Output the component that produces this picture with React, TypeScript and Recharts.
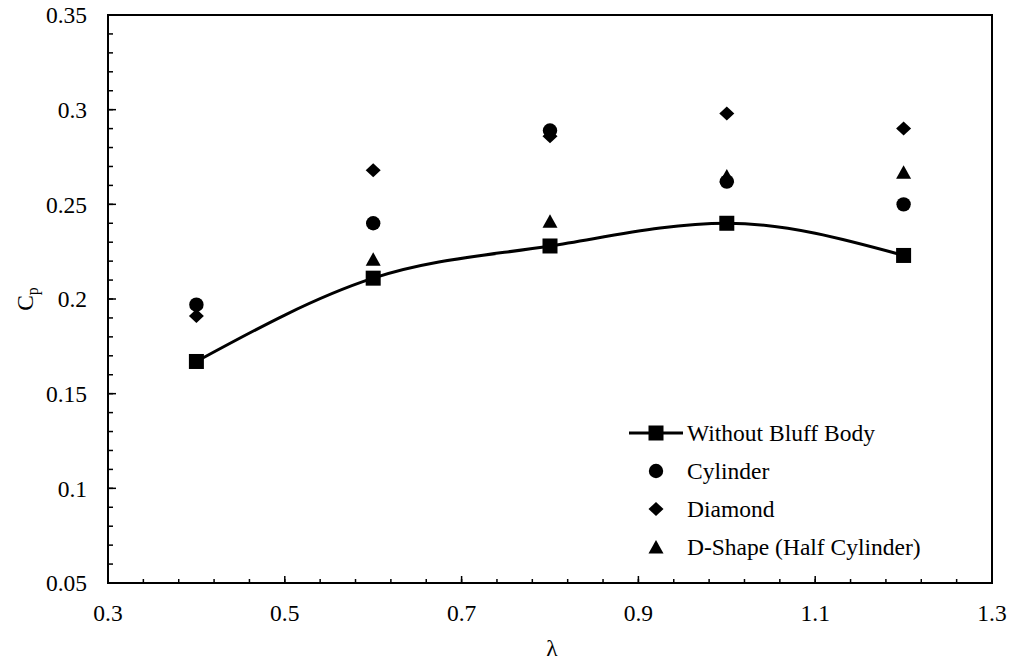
import * as React from "react"
import { LineChart, Line, XAxis, YAxis, Legend, ReferenceArea } from "recharts"

// tip speed ratio and power coefficient for each bluff body
const lambdaValues = [0.4, 0.6, 0.8, 1.0, 1.2]
const withoutBluffBody = [0.167, 0.211, 0.228, 0.24, 0.223]
const cylinder = [0.197, 0.24, 0.289, 0.262, 0.25]
const diamond = [0.191, 0.268, 0.286, 0.298, 0.29]
const dShape = [null, 0.221, 0.241, 0.265, 0.267]

const xTicks = [0.3, 0.5, 0.7, 0.9, 1.1, 1.3]
const xMinorTicks = [
  0.3, 0.34, 0.38, 0.42, 0.46, 0.5, 0.54, 0.58, 0.62, 0.66, 0.7, 0.74, 0.78,
  0.82, 0.86, 0.9, 0.94, 0.98, 1.02, 1.06, 1.1, 1.14, 1.18, 1.22, 1.26, 1.3,
]
const yTicks = [0.05, 0.1, 0.15, 0.2, 0.25, 0.3, 0.35]
const yMinorTicks = [
  0.05, 0.06, 0.07, 0.08, 0.09, 0.1, 0.11, 0.12, 0.13, 0.14, 0.15, 0.16, 0.17,
  0.18, 0.19, 0.2, 0.21, 0.22, 0.23, 0.24, 0.25, 0.26, 0.27, 0.28, 0.29, 0.3,
  0.31, 0.32, 0.33, 0.34, 0.35,
]

const data = lambdaValues.map((l, i) => ({
  lambda: l,
  without: withoutBluffBody[i],
  cylinder: cylinder[i],
  diamond: diamond[i],
  dShape: dShape[i],
}))

const FONT = '"Liberation Serif", "Times New Roman", serif'
const FS = 23.5

type Kind = "square" | "circle" | "diamond" | "triangle"

const marker = (kind: Kind, cx: number, cy: number, key?: any) => {
  if (kind === "square")
    return <rect key={key} x={cx - 7.5} y={cy - 7.5} width={15} height={15} fill="#000" />
  if (kind === "circle") return <circle key={key} cx={cx} cy={cy} r={7.2} fill="#000" />
  if (kind === "diamond")
    return (
      <polygon
        key={key}
        points={`${cx},${cy - 7} ${cx + 7.5},${cy} ${cx},${cy + 7} ${cx - 7.5},${cy}`}
        fill="#000"
      />
    )
  return (
    <polygon
      key={key}
      points={`${cx},${cy - 7} ${cx + 7.5},${cy + 6.5} ${cx - 7.5},${cy + 6.5}`}
      fill="#000"
    />
  )
}

const dotOf = (kind: Kind) => (props: any) => {
  const { cx, cy, key, value } = props
  if (value == null || cy == null || isNaN(cy)) return <g key={key} />
  return marker(kind, cx, cy, key)
}

const legendItems: { name: string; kind: Kind; line: boolean }[] = [
  { name: "Without Bluff Body", kind: "square", line: true },
  { name: "Cylinder", kind: "circle", line: false },
  { name: "Diamond", kind: "diamond", line: false },
  { name: "D-Shape (Half Cylinder)", kind: "triangle", line: false },
]

const LegendBox = () => (
  <div style={{ fontFamily: FONT, fontSize: FS, color: "#000" }}>
    {legendItems.map((it) => (
      <div key={it.name} style={{ display: "flex", alignItems: "center", height: 38 }}>
        <svg width={54} height={38} style={{ marginRight: 4 }}>
          {it.line && <line x1={0} x2={54} y1={19} y2={19} stroke="#000" strokeWidth={3} />}
          {marker(it.kind, 27, 19)}
        </svg>
        <span style={{ whiteSpace: "nowrap" }}>{it.name}</span>
      </div>
    ))}
  </div>
)

const noLabel = () => <g />
const tickStyle = { fontFamily: FONT, fontSize: FS, fill: "#000" }
const tickLn = { stroke: "#000", strokeWidth: 1.5 }

export default function App() {
  return (
    <div style={{ width: 1019, height: 662, background: "#fff" }}>
      <style>{`body{margin:0}`}</style>
      <LineChart
        width={1019}
        height={662}
        data={data}
        margin={{ top: 15, right: 27, bottom: 18, left: 27 }}
      >
        {/* minor ticks + axis lines; id 0 sits right on the plot edge */}
        <XAxis
          xAxisId={0}
          type="number"
          dataKey="lambda"
          domain={[0.3, 1.3]}
          allowDataOverflow
          ticks={xMinorTicks}
          interval={0}
          height={1}
          axisLine={{ stroke: "#000", strokeWidth: 2 }}
          tick={noLabel}
          tickSize={-4}
          tickLine={tickLn}
        />
        <YAxis
          yAxisId={0}
          type="number"
          domain={[0.05, 0.35]}
          allowDataOverflow
          ticks={yMinorTicks}
          interval={0}
          width={1}
          axisLine={{ stroke: "#000", strokeWidth: 2 }}
          tick={noLabel}
          tickSize={-5}
          tickLine={tickLn}
        />
        {/* major ticks and labels */}
        <XAxis
          xAxisId="major"
          type="number"
          dataKey="lambda"
          domain={[0.3, 1.3]}
          allowDataOverflow
          ticks={xTicks}
          interval={0}
          height={60}
          tickFormatter={(v: number) => String(v)}
          tick={tickStyle}
          tickSize={-8}
          tickMargin={28}
          axisLine={false}
          tickLine={tickLn}
          label={{
            content: ({ viewBox }: any) => (
              <text
                x={viewBox.x + viewBox.width / 2 + 2}
                y={viewBox.y + 72}
                textAnchor="middle"
                fontFamily={FONT}
                fontSize={FS}
                fill="#000"
              >
                λ
              </text>
            ),
          }}
        />
        <YAxis
          yAxisId="major"
          type="number"
          domain={[0.05, 0.35]}
          allowDataOverflow
          ticks={yTicks}
          interval={0}
          width={80}
          tickFormatter={(v: number) => String(v)}
          tick={tickStyle}
          tickSize={-9}
          tickMargin={29}
          axisLine={false}
          tickLine={tickLn}
          label={{
            content: ({ viewBox }: any) => {
              const x = viewBox.x + 6
              const y = viewBox.y + viewBox.height / 2
              return (
                <text
                  x={x}
                  y={y}
                  transform={`rotate(-90, ${x}, ${y})`}
                  textAnchor="middle"
                  fontFamily={FONT}
                  fontSize={FS}
                  fill="#000"
                >
                  C
                  <tspan dy={5} fontSize={16}>
                    p
                  </tspan>
                </text>
              )
            },
          }}
        />
        {/* plot frame */}
        <ReferenceArea
          x1={0.3}
          x2={1.3}
          y1={0.05}
          y2={0.35}
          fill="none"
          stroke="#000"
          strokeWidth={2}
          ifOverflow="visible"
        />
        <Legend
          layout="vertical"
          align="center"
          verticalAlign="middle"
          content={() => <LegendBox />}
          wrapperStyle={{ position: "absolute", left: 629, top: 414, width: 330 }}
        />
        <Line
          name="Without Bluff Body"
          dataKey="without"
          type="monotone"
          stroke="#000"
          strokeWidth={3}
          dot={dotOf("square")}
          activeDot={false}
          isAnimationActive={false}
        />
        <Line
          name="Cylinder"
          dataKey="cylinder"
          stroke="none"
          dot={dotOf("circle")}
          activeDot={false}
          isAnimationActive={false}
        />
        <Line
          name="Diamond"
          dataKey="diamond"
          stroke="none"
          dot={dotOf("diamond")}
          activeDot={false}
          isAnimationActive={false}
        />
        <Line
          name="D-Shape (Half Cylinder)"
          dataKey="dShape"
          stroke="none"
          dot={dotOf("triangle")}
          activeDot={false}
          isAnimationActive={false}
        />
      </LineChart>
    </div>
  )
}
